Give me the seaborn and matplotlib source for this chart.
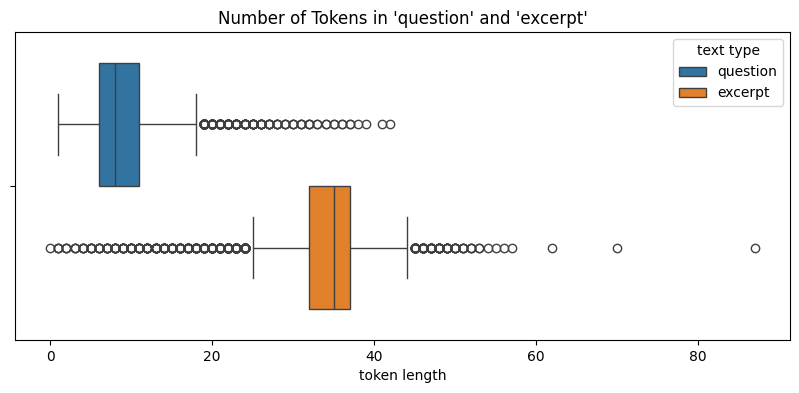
import numpy as np
import pandas as pd
import matplotlib
matplotlib.use("Agg")
import matplotlib.pyplot as plt
import seaborn as sns

q_len = [1, 2, 3, 4, 5, 6, 7, 8, 9, 10, 11, 12, 13, 14, 15, 16, 17, 18,
         19, 20, 21, 22, 23, 24, 25, 26, 27, 28, 29, 30, 31, 32, 33, 34,
         35, 36, 37, 38, 39, 41, 42]
q_cnt = [50, 150, 400, 700, 1000, 1200, 1300, 1250, 1100, 950, 800, 600,
         450, 350, 250, 180, 130, 100, 70, 50, 35, 25, 18, 12, 9, 7, 5, 4,
         3, 3, 3, 3, 2, 2, 2, 2, 2, 1, 1, 1, 1]

e_len = [0, 1, 2, 3, 4, 5, 6, 7, 8, 9, 10, 11, 12, 13, 14, 15, 16, 17, 18,
         19, 20, 21, 22, 23, 24, 25, 26, 27, 28, 29, 30, 31, 32, 33, 34, 35,
         36, 37, 38, 39, 40, 41, 42, 43, 44, 45, 46, 47, 48, 49, 50, 51, 52,
         53, 54, 55, 56, 57, 62, 70, 87]
e_cnt = [1, 3, 3, 3, 4, 5, 5, 6, 7, 8, 9, 10, 12, 13, 15, 17, 20, 22, 25,
         30, 35, 40, 50, 60, 75, 100, 140, 200, 280, 300, 400, 500, 800, 950,
         1050, 1100, 1050, 900, 700, 500, 350, 230, 150, 100, 60, 40, 25, 17,
         12, 8, 6, 4, 3, 2, 1, 1, 1, 1, 1, 1, 1]

df = pd.DataFrame({
    "token length": np.concatenate([np.repeat(q_len, q_cnt), np.repeat(e_len, e_cnt)]),
    "text type": ["question"] * sum(q_cnt) + ["excerpt"] * sum(e_cnt),
})

fig, ax = plt.subplots(figsize=(7.99, 3.93), dpi=100)
sns.boxplot(data=df, x="token length", hue="text type", ax=ax)
ax.set_title("Number of Tokens in 'question' and 'excerpt'")
fig.subplots_adjust(left=0.0188, right=0.9887, top=0.9186, bottom=0.1349)
fig.savefig("out.png", dpi=100)
